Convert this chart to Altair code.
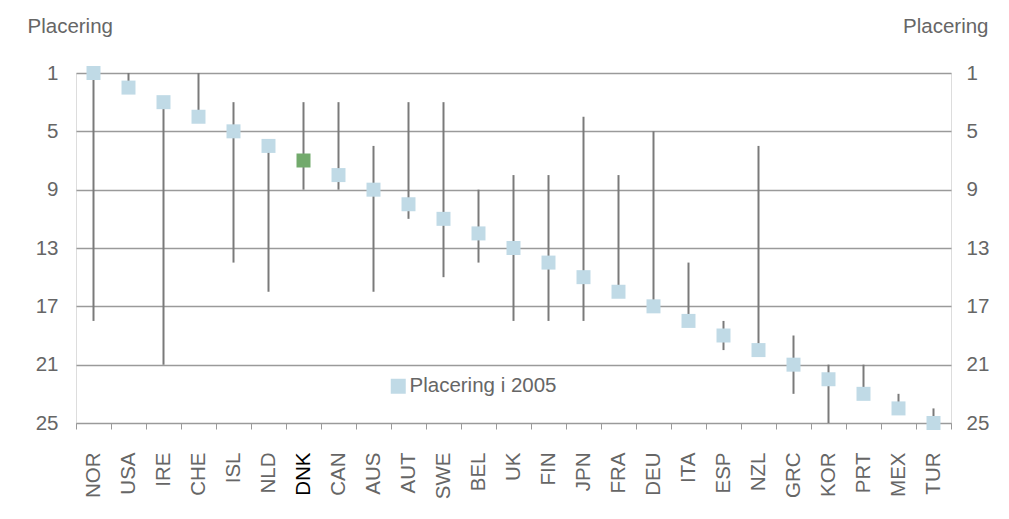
import altair as alt
import pandas as pd

countries = ["NOR", "USA", "IRE", "CHE", "ISL", "NLD", "DNK", "CAN", "AUS", "AUT",
             "SWE", "BEL", "UK", "FIN", "JPN", "FRA", "DEU", "ITA", "ESP", "NZL",
             "GRC", "KOR", "PRT", "MEX", "TUR"]
rank_2005 = [1, 2, 3, 4, 5, 6, 7, 8, 9, 10, 11, 12, 13, 14, 15, 16, 17, 18, 19, 20,
             21, 22, 23, 24, 25]
best_rank = [1, 1, 3, 1, 3, 6, 3, 3, 6, 3, 3, 9, 8, 8, 4, 8, 5, 14, 18, 6,
             19, 21, 21, 23, 24]
worst_rank = [18, 2, 21, 4, 14, 16, 9, 9, 16, 11, 15, 14, 18, 18, 18, 16, 17, 18, 20, 20,
              23, 25, 23, 24, 25]
y_ticks = [1, 5, 9, 13, 17, 21, 25]
series_name = "Placering i 2005"

df = pd.DataFrame({
    "country": countries,
    "rank": rank_2005,
    "best": best_rank,
    "worst": worst_rank,
    "series": [series_name] * len(countries),
})

FONT = "Liberation Sans"
FS = 20.5
TXT = "#666666"
GRID = "#9a9a9a"

x_enc = alt.X(
    "country:N", sort=countries, title=None,
    scale=alt.Scale(paddingInner=0, paddingOuter=0),
    axis=alt.Axis(
        labelAngle=-90, labelAlign="right", labelBaseline="middle",
        labelFontSize=FS, labelFont=FONT,
        labelColor={"condition": {"test": "datum.value == 'DNK'", "value": "#000000"}, "value": TXT},
        tickBand="extent", tickSize=6, tickColor=GRID, domainColor=GRID,
        labelPadding=23, grid=False,
    ),
)

y_scale = alt.Scale(domain=[1, 25], reverse=True, nice=False, zero=False)

rules = alt.Chart(df).mark_rule(color="#7a7a7a", strokeWidth=2).encode(
    x=x_enc,
    y=alt.Y("best:Q", scale=y_scale, axis=alt.Axis(
        values=y_ticks, title="Placering", titleAngle=0, titleAlign="left",
        titleBaseline="middle", titleX=-49, titleY=-47, titleFontSize=FS,
        titleFontWeight="normal", titleFont=FONT, titleColor=TXT,
        labelFontSize=FS, labelFont=FONT, labelColor=TXT, labelPadding=18,
        ticks=False, domain=False, grid=True, gridColor=GRID, gridWidth=1.5,
        orient="left",
    )),
    y2="worst:Q",
)

squares = alt.Chart(df).mark_square(size=196, opacity=1).encode(
    x=alt.X("country:N", sort=countries),
    y=alt.Y("rank:Q", scale=y_scale, axis=alt.Axis(
        values=y_ticks, title="Placering", titleAngle=0, titleAlign="right",
        titleBaseline="middle", titleX=37, titleY=-47, titleFontSize=FS,
        titleFontWeight="normal", titleFont=FONT, titleColor=TXT,
        labelFontSize=FS, labelFont=FONT, labelColor=TXT, labelPadding=15,
        ticks=False, domain=False, grid=False, orient="right",
    )),
    color=alt.condition(
        "datum.country == 'DNK'",
        alt.value("#72aa6c"),
        alt.Color("series:N", title=None,
                  scale=alt.Scale(domain=[series_name], range=["#c0dae6"]),
                  legend=alt.Legend(
                      orient="none", legendX=312, legendY=303, symbolType="square",
                      symbolSize=225, labelFontSize=FS, labelFont=FONT, labelColor=TXT,
                      labelOffset=1, padding=0, symbolStrokeWidth=0,
                  )),
    ),
)

chart = alt.layer(rules, squares).resolve_scale(y="independent").properties(
    width=875, height=350,
    autosize=alt.AutoSizeParams(type="none"),
    padding={"left": 68, "top": 65, "right": 50, "bottom": 80},
).configure_view(stroke=None).configure(background="white")

chart.save("out.html", embed_options={"renderer": "svg", "actions": False})
